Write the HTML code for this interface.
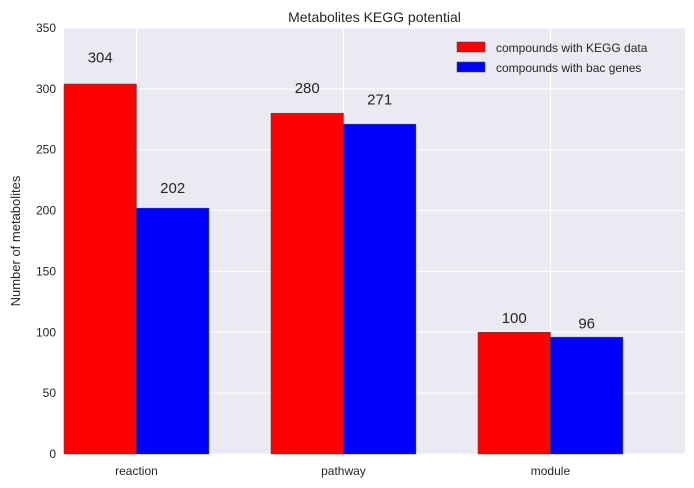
<!DOCTYPE html>
<html><head><meta charset="utf-8"><style>
body{margin:0;background:#fff;}
svg{display:block;font-family:"Liberation Sans",sans-serif;}
</style></head><body>
<svg id="chart" width="694" height="488"></svg>
<script>
const categories=["reaction","pathway","module"];
const keggValues=[304,280,100];
const bacValues=[202,271,96];
const yTicks=[0,50,100,150,200,250,300,350];
const seriesNames=["compounds with KEGG data","compounds with bac genes"];

const NS="http://www.w3.org/2000/svg";
const svg=document.getElementById("chart");
const L=64,R=685,T=28,B=454;
const xMin=0,xMax=3,yMax=350,bw=0.35;
const X=v=>L+(v-xMin)/(xMax-xMin)*(R-L);
const Y=v=>B-v/yMax*(B-T);
function mk(tag,attrs,parent){const e=document.createElementNS(NS,tag);for(const k in attrs)e.setAttribute(k,attrs[k]);(parent||svg).appendChild(e);return e;}

const bg=mk("rect",{x:L,y:T,width:R-L,height:B-T,fill:"#EAEAF2"});



yTicks.forEach(t=>{
  const g=mk("line",{x1:L,x2:R,y1:Y(t),y2:Y(t),stroke:"#fff","stroke-width":1});
  
  
  const tx=mk("text",{x:L-8,y:Y(t)+4,"text-anchor":"end","font-size":12,fill:"#262626"});
  tx.textContent=t;
  
  
});
categories.forEach((c,i)=>{
  const g=mk("line",{x1:X(i+bw),x2:X(i+bw),y1:T,y2:B,stroke:"#fff","stroke-width":1});
  
  
});

function bars(vals,off,color,name){
  vals.forEach((v,i)=>{
    const x0=X(i+off),x1=X(i+off+bw);
    const r=mk("rect",{x:x0,y:Y(v),width:x1-x0,height:Y(0)-Y(v),fill:color,stroke:"#444","stroke-width":0.5});
    
    
    const t=mk("text",{x:(x0+x1)/2,y:Y(v*1.05)-3,"text-anchor":"middle","font-size":15,fill:"#262626"});
    t.textContent=v;
    
    
  });
}
bars(keggValues,0,"#ff0000","kegg");
bars(bacValues,bw,"#0000ff","bac");

categories.forEach((c,i)=>{
  const t=mk("text",{x:X(i+bw),y:B+21,"text-anchor":"middle","font-size":12,fill:"#262626"});
  t.textContent=c;
  
  
});

const title=mk("text",{x:(L+R)/2,y:T-6,"text-anchor":"middle","font-size":14,fill:"#262626"});
title.textContent="Metabolites KEGG potential";



const yl=mk("text",{x:0,y:0,"text-anchor":"middle","font-size":13,fill:"#262626",transform:"translate(20,"+((T+B)/2)+") rotate(-90)"});
yl.textContent="Number of metabolites";



[["#ff0000",42],["#0000ff",62]].forEach((p,i)=>{
  const r=mk("rect",{x:457,y:p[1],width:28,height:10,fill:p[0],stroke:"#444","stroke-width":0.5});
  
  
  const t=mk("text",{x:496,y:p[1]+10,"font-size":12,fill:"#262626"});
  t.textContent=seriesNames[i];
  
  
});
</script>
</body></html>
